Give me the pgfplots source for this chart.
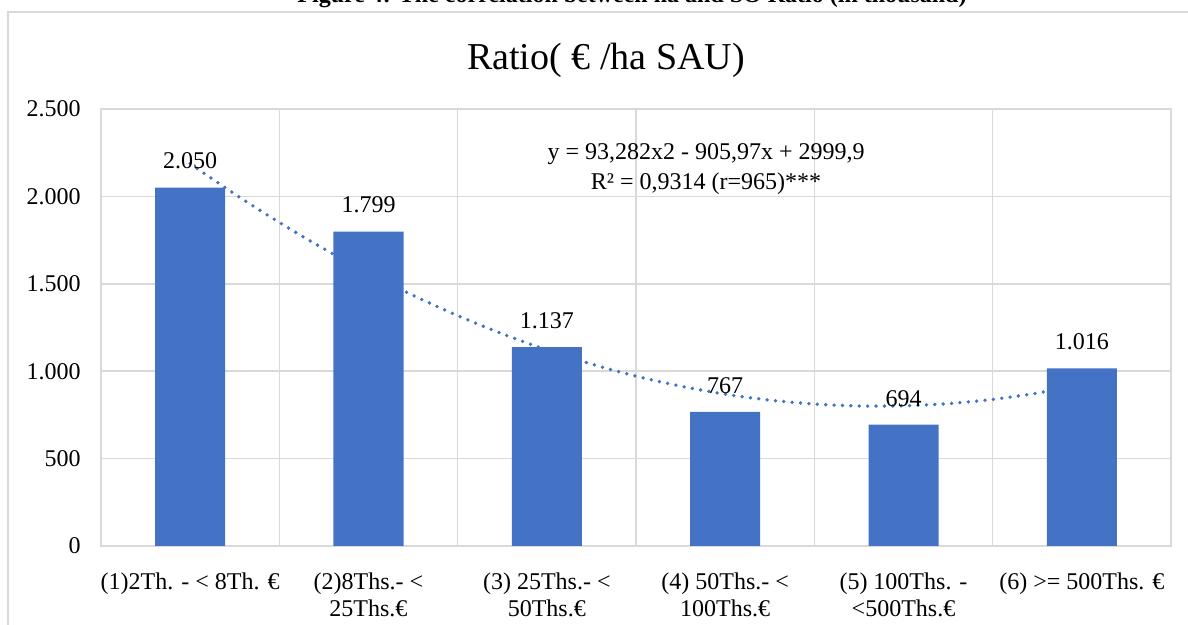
\documentclass[border=0pt]{standalone}
\usepackage{pgfplots}
\pgfplotsset{compat=1.18}
\usepackage{fontspec}
\setmainfont{Liberation Serif}
\definecolor{barblue}{HTML}{4472C4}
\definecolor{gridgray}{HTML}{D9D9D9}
\begin{document}
\begin{tikzpicture}
\useasboundingbox (-50.5pt,-39.5pt) rectangle (543.5pt,273pt);
\clip (-50.5pt,-39.5pt) rectangle (543.5pt,273pt);
\draw[gridgray, line width=0.8pt] (-46.5pt,-60pt) rectangle (560pt,267pt);
\node[anchor=base, font=\bfseries\fontsize{12}{14}\selectfont] at (265.5pt,271.6pt) {Figure 4: The correlation between ha and SO Ratio (in thousand)};
\node[anchor=center, font=\fontsize{19}{22}\selectfont] at (252.5pt,243pt) {Ratio( € /ha SAU)};
\begin{axis}[
  at={(0,0)}, anchor=south west,
  width=535pt, height=218.5pt, scale only axis,
  xmin=0.5, xmax=6.5, ymin=0, ymax=2500,
  ytick={0,500,1000,1500,2000,2500},
  yticklabels={0,500,1.000,1.500,2.000,2.500},
  xtick={1,2,3,4,5,6},
  xticklabels={{(1)2Th. - < 8Th. €},{(2)8Ths.- <\\25Ths.€},{(3) 25Ths.- <\\50Ths.€},{(4) 50Ths.- <\\100Ths.€},{(5) 100Ths. -\\<500Ths.€},{(6) >= 500Ths. €}},
  minor xtick={1.5,2.5,3.5,4.5,5.5},
  xminorgrids=true, xmajorgrids=false, ymajorgrids=true,
  grid style={draw=gridgray, line width=0.75pt},
  minor grid style={draw=gridgray, line width=0.75pt},
  major tick length=0pt, minor tick length=0pt,
  tick style={draw=none},
  axis line style={draw=gridgray, line width=0.75pt},
  yticklabel style={font=\fontsize{12}{14}\selectfont, inner sep=0pt, anchor=east, xshift=-10pt},
  xticklabel style={font=\fontsize{12}{13.5}\selectfont, inner sep=0pt, anchor=north, align=center, yshift=-13pt},
  /pgf/number format/.cd, 1000 sep={.}, assume math mode=true,
]
\addplot[smooth, draw=barblue, line width=1.9pt, dash pattern=on 0pt off 4.2pt, line cap=round] coordinates {
(1,2187.21) (1.25,2013.19) (1.5,1850.83) (1.75,1700.13) (2,1561.09) (2.25,1433.71) (2.5,1317.99) (2.75,1213.93) (3,1121.53) (3.25,1040.79) (3.5,971.71) (3.75,914.29) (4,868.53) (4.25,834.43) (4.5,812.00) (4.75,801.22) (5,802.10) (5.25,814.64) (5.5,838.85) (5.75,874.71) (6,922.23)
};
\addplot[ybar, bar width=35pt, fill=barblue, draw=none,
  nodes near coords,
  nodes near coords style={font=\fontsize{12}{14}\selectfont, inner sep=0pt, anchor=south, yshift=9pt, text=black}]
  coordinates {(1,2050) (2,1799) (3,1137) (4,767) (5,694) (6,1016)};
\node[font=\fontsize{12}{14}\selectfont, anchor=center] at (axis cs:3.893,2243) {y = 93,282x2 - 905,97x + 2999,9};
\node[font=\fontsize{12}{14}\selectfont, anchor=center] at (axis cs:3.893,2071) {R² = 0,9314 (r=965)***};
\end{axis}
\end{tikzpicture}
\end{document}
